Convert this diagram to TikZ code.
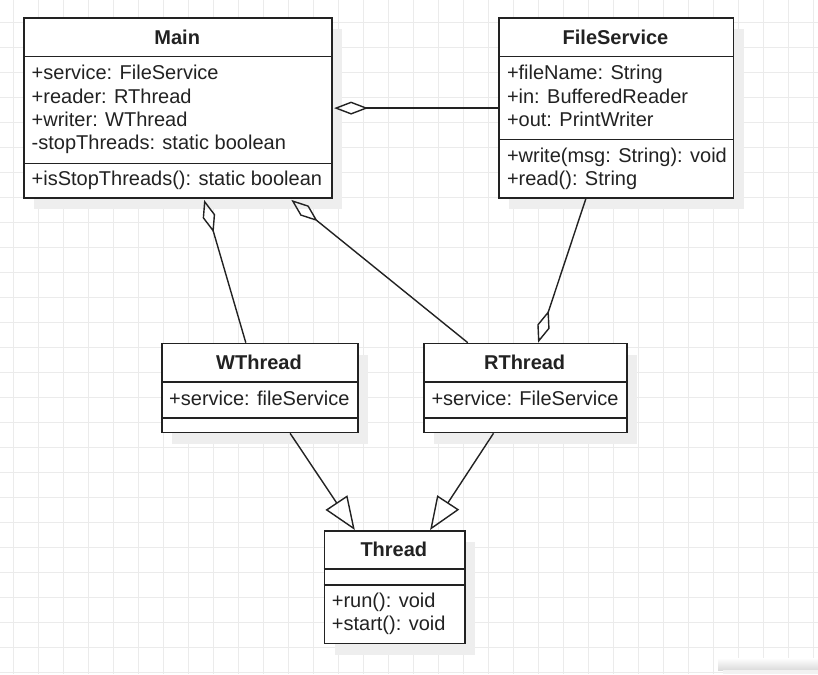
\documentclass[tikz,border=0pt]{standalone}
\usepackage{fontspec}
\setmainfont{Liberation Sans}
\usetikzlibrary{arrows.meta,shadows}
\definecolor{gridc}{HTML}{EBEBEB}
\definecolor{inkc}{HTML}{222222}
\definecolor{shadc}{HTML}{EEEEEE}
\begin{document}
\begin{tikzpicture}[x=1pt,y=-1pt,
  gridline/.style={draw=gridc,line width=1pt},
  classbox/.style={draw=inkc,line width=1.6pt,fill=white,anchor=north west,inner sep=0pt,
    drop shadow={shadow xshift=10pt,shadow yshift=-11pt,fill=shadc,opacity=1}},
  sepline/.style={draw=inkc,line width=1.6pt},
  hdr/.style={font=\fontsize{20}{24}\selectfont\bfseries,text=inkc,inner sep=0pt},
  attr/.style={font=\fontsize{20}{24}\selectfont,text=inkc,inner sep=0pt,anchor=base west},
  agg/.style={draw=inkc,line width=1.4pt,-{Diamond[open,length=34pt,width=13pt]}},
  gen/.style={draw=inkc,line width=1.4pt,-{Triangle[open,length=33pt,width=26pt]}}]
\useasboundingbox (0,0) rectangle (818,674);
\fill[white] (0,0) rectangle (818,674);
% grid
\foreach \i in {0,...,32} \draw[gridline] ({13.5+25*\i},0) -- ({13.5+25*\i},674);
\foreach \j in {0,...,26} \draw[gridline] (0,{22.5+25*\j}) -- (818,{22.5+25*\j});
% bottom-right panel edge
\shade[top color=white,bottom color=black!14] (718,658) rectangle (818,670);
\fill[black!5] (723,670) rectangle (818,674);
% Main
\node[classbox,minimum width=307.7pt,minimum height=180pt] (main) at (23.3,17.3) {};
\draw[sepline] (23.3,56.7) -- (331,56.7);
\draw[sepline] (23.3,163.3) -- (331,163.3);
\node[hdr] (mainT) at (177.2,37) {Main};
\node[attr] (mainA1) at (31.5,80) {+service: FileService};
\node[attr] (mainA2) at (31.5,103.2) {+reader: RThread};
\node[attr] (mainA3) at (31.5,126.4) {+writer: WThread};
\node[attr] (mainA4) at (31.5,149.6) {-stopThreads: static boolean};
\node[attr] (mainM1) at (31.5,185.7) {+isStopThreads(): static boolean};
% FileService
\node[classbox,minimum width=234.4pt,minimum height=180pt] (fs) at (498.3,17.3) {};
\draw[sepline] (498.3,56.7) -- (732.7,56.7);
\draw[sepline] (498.3,139.3) -- (732.7,139.3);
\node[hdr] (fsT) at (615.5,37) {FileService};
\node[attr] (fsA1) at (506.8,80) {+fileName: String};
\node[attr] (fsA2) at (506.8,103.2) {+in: BufferedReader};
\node[attr] (fsA3) at (506.8,126.4) {+out: PrintWriter};
\node[attr] (fsM1) at (506.8,162.5) {+write(msg: String): void};
\node[attr] (fsM2) at (506.8,185.7) {+read(): String};
% WThread
\node[classbox,minimum width=196pt,minimum height=89pt] (wt) at (161,342.7) {};
\draw[sepline] (161,381.7) -- (357,381.7);
\draw[sepline] (161,417.7) -- (357,417.7);
\node[hdr] (wtT) at (259,362) {WThread};
\node[attr] (wtA1) at (169,405) {+service: fileService};
% RThread
\node[classbox,minimum width=202.7pt,minimum height=89pt] (rt) at (423.3,342.7) {};
\draw[sepline] (423.3,381.7) -- (626,381.7);
\draw[sepline] (423.3,417.7) -- (626,417.7);
\node[hdr] (rtT) at (524.65,362) {RThread};
\node[attr] (rtA1) at (431.3,405) {+service: FileService};
% Thread
\node[classbox,minimum width=140.3pt,minimum height=112.7pt] (th) at (323.7,530) {};
\draw[sepline] (323.7,569) -- (464,569);
\draw[sepline] (323.7,585) -- (464,585);
\node[hdr] (thT) at (393.85,549) {Thread};
\node[attr] (thM1) at (331.7,607.3) {+run(): void};
\node[attr] (thM2) at (331.7,630) {+start(): void};
% connectors
\draw[agg] (fs.west) -- ([xshift=1.5pt]main.east);
\draw[agg] ([xshift=-14pt]wt.north) -- ([xshift=26.2pt,yshift=-1pt]main.south);
\draw[agg] ([xshift=-57.65pt]rt.north) -- ([xshift=113.35pt,yshift=-1pt]main.south);
\draw[agg] ([xshift=-30.5pt]fs.south) -- ([xshift=12.65pt]rt.north);
\draw[gen] ([xshift=30.3pt]wt.south) -- ([xshift=-39.85pt]th.north);
\draw[gen] ([xshift=-31.95pt]rt.south) -- ([xshift=35.45pt]th.north);
\end{tikzpicture}
\end{document}
